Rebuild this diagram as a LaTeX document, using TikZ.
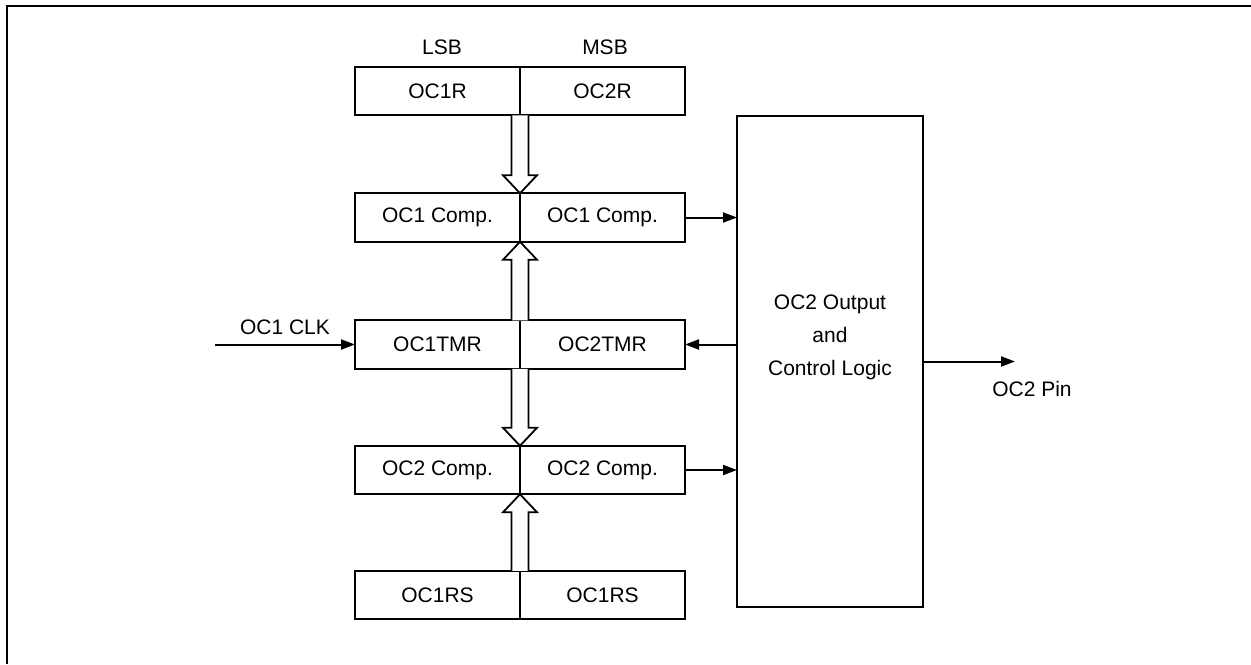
\documentclass[tikz,border=0pt]{standalone}
\usepackage{fontspec}
\setmainfont{Liberation Sans}
\usetikzlibrary{positioning,arrows.meta,calc}

% hollow bus arrow, drawn from the divider of one register to the next
\newcommand{\busarrow}[2]{%
  \draw[bus] ($(#1)+(-4.25pt,0)$) -- ($(#2)!9pt!(#1)+(-4.25pt,0)$)
    -- ($(#2)!9pt!(#1)+(-8.5pt,0)$) -- (#2)
    -- ($(#2)!9pt!(#1)+(8.5pt,0)$) -- ($(#2)!9pt!(#1)+(4.25pt,0)$)
    -- ($(#1)+(4.25pt,0)$);}

\begin{document}
\begin{tikzpicture}[x=0.5pt, y=-0.5pt,
      font=\fontsize{10.5}{16.5}\selectfont,
      cell/.style={draw, line width=1pt, minimum width=82.5pt,
                   minimum height=24.25pt, inner sep=0pt, outer sep=0pt},
      logicbox/.style={draw, line width=1pt, minimum width=93pt,
                       minimum height=245.5pt, inner sep=0pt, outer sep=0pt},
      arr/.style={-{Triangle[length=7pt,width=5pt]}, line width=1pt},
      bus/.style={line width=0.9pt, fill=white},
      frame/.style={line width=1.4pt}
    ]
    \useasboundingbox (0,0) rectangle (1251,664);
    \draw[frame] (1251,6) -- (7,6) -- (7,664);

    % registers, LSB on the left, MSB on the right
    \node[cell] (r1l) at (437.5,91) {OC1R};
    \node[cell, right=0pt of r1l] (r1r) {OC2R};
    \node[cell] (c1l) at (437.5,217.5) {OC1 Comp.};
    \node[cell, right=0pt of c1l] (c1r) {OC1 Comp.};
    \node[cell] (t1l) at (437.5,344.5) {OC1TMR};
    \node[cell, right=0pt of t1l] (t1r) {OC2TMR};
    \node[cell] (c2l) at (437.5,470) {OC2 Comp.};
    \node[cell, right=0pt of c2l] (c2r) {OC2 Comp.};
    \node[cell] (s1l) at (437.5,595) {OC1RS};
    \node[cell, right=0pt of s1l] (s1r) {OC1RS};
    \node (lsb) at (442,47) {LSB};
    \node (msb) at (605,47) {MSB};

    \node[logicbox] (logic) at (830,361.5) {};
    \node[align=center] (logictext) at (830,337) {OC2 Output\\and\\Control Logic};

    \busarrow{r1l.south east}{c1l.north east}
    \busarrow{t1l.north east}{c1l.south east}
    \busarrow{t1l.south east}{c2l.north east}
    \busarrow{s1l.north east}{c2l.south east}

    \coordinate (clk) at (215,344.5);
    \coordinate (pin) at (1015,361.5);
    \draw[arr] (clk) -- node[above=1pt] {OC1 CLK} (t1l);
    \draw[arr] (c1r) -- (c1r -| logic.west);
    \draw[arr] (t1r -| logic.west) -- (t1r);
    \draw[arr] (c2r) -- (c2r -| logic.west);
    \draw[arr] (logic.east) -- (pin);
    \node (pinlabel) at (1032,389) {OC2 Pin};
  \end{tikzpicture}
\end{document}
